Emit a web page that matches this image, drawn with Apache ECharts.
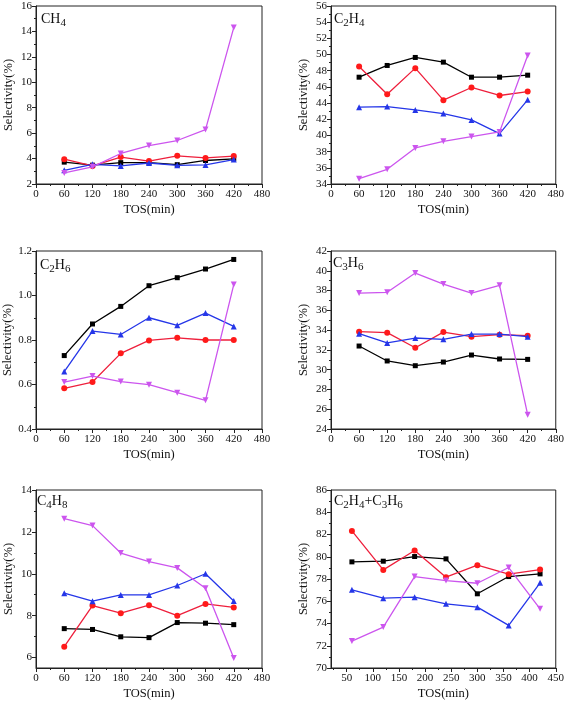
<!DOCTYPE html>
<html>
<head>
<meta charset="utf-8">
<script src="https://cdn.jsdelivr.net/npm/echarts@6/dist/echarts.min.js"></script>
<style>html,body{margin:0;padding:0;background:#fff;}#c{width:567px;height:704px;}</style>
</head>
<body>
<div id="c"></div>
<script>
// ---- data ----
const tos = [60, 120, 180, 240, 300, 360, 420];

const ch4Black   = [3.72, 3.48, 3.68, 3.68, 3.52, 3.85, 3.98];
const ch4Red     = [3.95, 3.42, 4.12, 3.80, 4.22, 4.05, 4.20];
const ch4Blue    = [3.08, 3.55, 3.42, 3.65, 3.47, 3.50, 3.92];
const ch4Magenta = [2.87, 3.35, 4.40, 5.02, 5.42, 6.28, 14.30];

const c2h4Black   = [47.2, 48.65, 49.64, 49.06, 47.2, 47.2, 47.45];
const c2h4Red     = [48.53, 45.1, 48.32, 44.36, 45.93, 44.94, 45.43];
const c2h4Blue    = [43.49, 43.57, 43.16, 42.71, 41.92, 40.23, 44.4];
const c2h4Magenta = [34.66, 35.82, 38.46, 39.28, 39.86, 40.44, 49.89];

const c2h6Black   = [0.73, 0.872, 0.951, 1.044, 1.08, 1.119, 1.162];
const c2h6Red     = [0.583, 0.611, 0.74, 0.798, 0.81, 0.80, 0.80];
const c2h6Blue    = [0.658, 0.84, 0.825, 0.90, 0.866, 0.921, 0.861];
const c2h6Magenta = [0.611, 0.638, 0.613, 0.599, 0.563, 0.529, 1.049];

const c3h6Black   = [32.39, 30.88, 30.4, 30.77, 31.48, 31.08, 31.04];
const c3h6Red     = [33.84, 33.74, 32.22, 33.8, 33.34, 33.54, 33.44];
const c3h6Blue    = [33.64, 32.7, 33.2, 33.07, 33.6, 33.6, 33.34];
const c3h6Magenta = [37.75, 37.82, 39.77, 38.66, 37.75, 38.53, 25.45];

const c4h8Black   = [7.38, 7.34, 6.99, 6.95, 7.67, 7.64, 7.57];
const c4h8Red     = [6.52, 8.48, 8.12, 8.5, 8.0, 8.56, 8.39];
const c4h8Blue    = [9.07, 8.69, 8.99, 8.99, 9.44, 10.0, 8.7];
const c4h8Magenta = [12.63, 12.3, 10.99, 10.58, 10.28, 9.31, 5.98];

const oleBlack   = [79.54, 79.6, 80.02, 79.81, 76.67, 78.22, 78.46];
const oleRed     = [82.32, 78.82, 80.56, 78.16, 79.24, 78.43, 78.85];
const oleBlue    = [77.03, 76.28, 76.37, 75.77, 75.47, 73.83, 77.66];
const oleMagenta = [72.42, 73.68, 78.22, 77.86, 77.62, 79.03, 75.32];

// tick labels
const xTicksA = [0, 60, 120, 180, 240, 300, 360, 420, 480];
const xMinorA = [30, 90, 150, 210, 270, 330, 390, 450];
const xTicksB = [50, 100, 150, 200, 250, 300, 350, 400, 450];
const xMinorB = [25, 75, 125, 175, 225, 275, 325, 375, 425];
const yTicks1 = [2, 4, 6, 8, 10, 12, 14, 16];
const yTicks2 = [34, 36, 38, 40, 42, 44, 46, 48, 50, 52, 54, 56];
const yTicks3 = [0.4, 0.6, 0.8, 1.0, 1.2];
const yTicks4 = [24, 26, 28, 30, 32, 34, 36, 38, 40, 42];
const yTicks5 = [6, 8, 10, 12, 14];
const yTicks6 = [70, 72, 74, 76, 78, 80, 82, 84, 86];

// ---- chart ----
const FONT = '"Liberation Serif", "Times New Roman", serif';
const COLORS = ['#000000', '#ee1f3c', '#2536e8', '#cc55ee'];
const SYMS = ['rect', 'circle', 'triangle', 'triangle'];
const ROT = [0, 0, 0, 180];

function mids(arr) {
  const r = [];
  for (let i = 0; i < arr.length - 1; i++) r.push((arr[i] + arr[i + 1]) / 2);
  return r;
}

const panels = [
  { grid: {left: 36, top: 6, width: 226, height: 178}, x: [0, 480, xTicksA, xMinorA], y: [2, 16, yTicks1], data: [ch4Black, ch4Red, ch4Blue, ch4Magenta], label: '{n|CH}{s|4}', lx: 41, ly: 9 },
  { grid: {left: 331, top: 6, width: 225, height: 178}, x: [0, 480, xTicksA, xMinorA], y: [34, 56, yTicks2], data: [c2h4Black, c2h4Red, c2h4Blue, c2h4Magenta], label: '{n|C}{s|2}{n|H}{s|4}', lx: 334, ly: 9 },
  { grid: {left: 36, top: 251, width: 226, height: 178}, x: [0, 480, xTicksA, xMinorA], y: [0.4, 1.2, yTicks3, 1], data: [c2h6Black, c2h6Red, c2h6Blue, c2h6Magenta], label: '{n|C}{s|2}{n|H}{s|6}', lx: 40, ly: 255 },
  { grid: {left: 331, top: 251, width: 227, height: 178}, x: [0, 480, xTicksA, xMinorA], y: [24, 42, yTicks4], data: [c3h6Black, c3h6Red, c3h6Blue, c3h6Magenta], label: '{n|C}{s|3}{n|H}{s|6}', lx: 333, ly: 253 },
  { grid: {left: 36, top: 490, width: 226, height: 178}, x: [0, 480, xTicksA, xMinorA], y: [5.5, 14, yTicks5], data: [c4h8Black, c4h8Red, c4h8Blue, c4h8Magenta], label: '{n|C}{s|4}{n|H}{s|8}', lx: 37, ly: 491 },
  { grid: {left: 331, top: 490, width: 227, height: 178}, x: [20, 450, xTicksB, xMinorB], y: [70, 86, yTicks6], data: [oleBlack, oleRed, oleBlue, oleMagenta], label: '{n|C}{s|2}{n|H}{s|4}{n|+C}{s|3}{n|H}{s|6}', lx: 334, ly: 491 }
];

const grid = [], xAxis = [], yAxis = [], series = [], title = [];
const labelStyle = { color: '#111', fontFamily: FONT, fontSize: 11 };
const nameStyle = { color: '#111', fontFamily: FONT, fontSize: 12.5 };

panels.forEach((p, i) => {
  grid.push(Object.assign({ show: true, borderColor: '#222', borderWidth: 1, backgroundColor: 'rgba(0,0,0,0)' }, p.grid));
  const [xmin, xmax, xt, xm] = p.x;
  const [ymin, ymax, yt, dec] = p.y;
  const yMinor = mids(yt);
  const xi = xAxis.length, yi = yAxis.length;
  xAxis.push({
    type: 'value', gridIndex: i, min: xmin, max: xmax, position: 'bottom',
    name: 'TOS(min)', nameLocation: 'middle', nameGap: 19, nameTextStyle: nameStyle,
    axisLine: { show: true, lineStyle: { color: '#222', width: 1 } },
    axisTick: { show: true, inside: false, length: 4, customValues: xt, lineStyle: { color: '#222' } },
    axisLabel: { show: true, customValues: xt, margin: 5, ...labelStyle },
    splitLine: { show: false }
  });
  xAxis.push({
    type: 'value', gridIndex: i, min: xmin, max: xmax, position: 'bottom',
    axisLine: { show: false },
    axisTick: { show: true, inside: false, length: 2, customValues: xm, lineStyle: { color: '#222' } },
    axisLabel: { show: false }, splitLine: { show: false }
  });
  yAxis.push({
    type: 'value', gridIndex: i, min: ymin, max: ymax, position: 'left',
    name: 'Selectivity(%)', nameLocation: 'middle', nameGap: 21, nameTextStyle: nameStyle,
    axisLine: { show: true, lineStyle: { color: '#222', width: 1 } },
    axisTick: { show: true, inside: false, length: 4, customValues: yt, lineStyle: { color: '#222' } },
    axisLabel: { show: true, customValues: yt, margin: 4, ...labelStyle,
      formatter: dec ? (v) => Number(v).toFixed(dec) : (v) => String(v) },
    splitLine: { show: false }
  });
  yAxis.push({
    type: 'value', gridIndex: i, min: ymin, max: ymax, position: 'left',
    axisLine: { show: false },
    axisTick: { show: true, inside: false, length: 2, customValues: yMinor, lineStyle: { color: '#222' } },
    axisLabel: { show: false }, splitLine: { show: false }
  });
  p.data.forEach((vals, k) => {
    series.push({
      type: 'line', xAxisIndex: xi, yAxisIndex: yi,
      data: tos.map((t, j) => [t, vals[j]]),
      symbol: SYMS[k], symbolRotate: ROT[k], symbolSize: k === 0 ? 5 : 6,
      showSymbol: true, animation: false,
      lineStyle: { color: COLORS[k], width: 1.3 },
      itemStyle: { color: k === 1 ? '#ff1a1a' : COLORS[k], borderWidth: 0 },
      z: 2 + k
    });
  });
  title.push({
    left: p.lx, top: p.ly, padding: 0,
    text: p.label,
    textStyle: {
      fontWeight: 'normal',
      rich: {
        n: { fontFamily: FONT, fontSize: 14, fontWeight: 'normal', color: '#111', lineHeight: 20, verticalAlign: 'middle' },
        s: { fontFamily: FONT, fontSize: 11, fontWeight: 'normal', color: '#111', lineHeight: 11, verticalAlign: 'bottom' }
      }
    }
  });
});

const chart = echarts.init(document.getElementById('c'), null, { renderer: 'canvas' });
chart.setOption({ backgroundColor: '#fff', animation: false, grid, xAxis, yAxis, series, title });
</script>
</body>
</html>
